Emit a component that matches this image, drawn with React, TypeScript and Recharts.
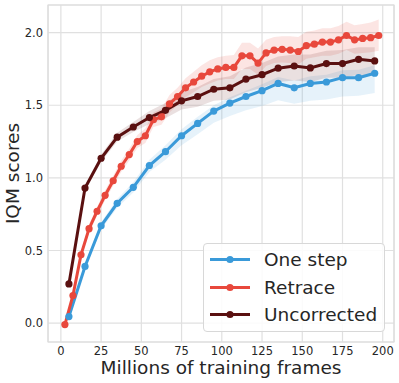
import { Area, CartesianGrid, ComposedChart, Label, Line, ReferenceArea, XAxis, YAxis } from 'recharts'

const retraceFrames = [
  2.5, 7.5, 12.5, 17.5, 22.5, 27.5, 32.5, 37.5, 42.5, 47.5, 52.5, 57.5, 62.5, 67.5, 72.5, 77.5, 82.5, 87.5, 92.5, 97.5,
  102.5, 107.5, 112.5, 117.5, 122.5, 127.5, 132.5, 137.5, 142.5, 147.5, 152.5, 157.5, 162.5, 167.5, 172.5, 177.5, 182.5, 187.5, 192.5, 197.5,
]
const retraceIqm = [
  -0.01, 0.19, 0.47, 0.65, 0.77, 0.88, 0.98, 1.08, 1.16, 1.25, 1.29, 1.4, 1.42, 1.51, 1.56, 1.62, 1.66, 1.7, 1.73, 1.75,
  1.76, 1.76, 1.84, 1.84, 1.79, 1.86, 1.88, 1.885, 1.88, 1.87, 1.91, 1.92, 1.935, 1.935, 1.95, 1.98, 1.95, 1.96, 1.965, 1.98,
]
const retraceLow = [
  -0.025, 0.17, 0.445, 0.62, 0.74, 0.845, 0.945, 1.04, 1.12, 1.205, 1.24, 1.35, 1.365, 1.45, 1.5, 1.555, 1.59, 1.625, 1.65, 1.67,
  1.68, 1.68, 1.75, 1.75, 1.71, 1.77, 1.79, 1.795, 1.79, 1.78, 1.82, 1.83, 1.84, 1.84, 1.855, 1.88, 1.855, 1.86, 1.865, 1.875,
]
const retraceHigh = [
  0.005, 0.21, 0.495, 0.68, 0.8, 0.915, 1.015, 1.12, 1.2, 1.295, 1.34, 1.45, 1.475, 1.57, 1.62, 1.685, 1.73, 1.775, 1.81, 1.83,
  1.84, 1.845, 1.93, 1.93, 1.89, 1.95, 1.97, 1.975, 1.975, 1.97, 2.005, 2.015, 2.03, 2.03, 2.045, 2.075, 2.05, 2.06, 2.07, 2.09,
]

const stepFrames = [5, 15, 25, 35, 45, 55, 65, 75, 85, 95, 105, 115, 125, 135, 145, 155, 165, 175, 185, 195]
const oneStepIqm = [0.045, 0.39, 0.67, 0.825, 0.935, 1.085, 1.18, 1.29, 1.375, 1.46, 1.515, 1.56, 1.6, 1.65, 1.62, 1.65, 1.66, 1.69, 1.69, 1.72]
const oneStepLow = [0.03, 0.37, 0.645, 0.795, 0.9, 1.04, 1.125, 1.225, 1.3, 1.38, 1.425, 1.465, 1.495, 1.535, 1.51, 1.53, 1.54, 1.56, 1.565, 1.585]
const oneStepHigh = [0.06, 0.41, 0.695, 0.855, 0.97, 1.125, 1.225, 1.335, 1.42, 1.5, 1.555, 1.6, 1.645, 1.695, 1.67, 1.7, 1.71, 1.74, 1.745, 1.775]

const uncorrectedIqm = [0.27, 0.93, 1.135, 1.28, 1.35, 1.415, 1.465, 1.53, 1.56, 1.61, 1.62, 1.68, 1.71, 1.755, 1.77, 1.757, 1.787, 1.787, 1.816, 1.805]
const uncorrectedLow = [0.26, 0.91, 1.11, 1.25, 1.315, 1.37, 1.41, 1.47, 1.49, 1.53, 1.54, 1.59, 1.62, 1.66, 1.67, 1.66, 1.69, 1.69, 1.71, 1.7]
const uncorrectedHigh = [0.28, 0.95, 1.16, 1.31, 1.385, 1.46, 1.515, 1.59, 1.625, 1.68, 1.7, 1.76, 1.79, 1.835, 1.85, 1.85, 1.875, 1.88, 1.9, 1.9]

const xTicks = [0, 25, 50, 75, 100, 125, 150, 175, 200]
const yTicks = [0, 0.5, 1, 1.5, 2]

const BLUE = '#3a9ad9'
const RED = '#e8483c'
const DARK = '#5a1010'
const FONT = '"DejaVu Sans", sans-serif'

type Row = { frame: number; [k: string]: number | number[] | undefined }

const buildRows = (): Row[] => {
  const rows = new Map<number, Row>()
  const get = (f: number) => {
    if (!rows.has(f)) rows.set(f, { frame: f })
    return rows.get(f)!
  }
  retraceFrames.forEach((f, i) => {
    const r = get(f)
    r.retrace = retraceIqm[i]
    r.retraceBand = [retraceLow[i], retraceHigh[i]]
  })
  stepFrames.forEach((f, i) => {
    const r = get(f)
    r.oneStep = oneStepIqm[i]
    r.oneStepBand = [oneStepLow[i], oneStepHigh[i]]
    r.uncorrected = uncorrectedIqm[i]
    r.uncorrectedBand = [uncorrectedLow[i], uncorrectedHigh[i]]
  })
  return [...rows.values()].sort((a, b) => a.frame - b.frame)
}

const data = buildRows()

const legendItems = [
  { name: 'One step', color: BLUE },
  { name: 'Retrace', color: RED },
  { name: 'Uncorrected', color: DARK },
]

const tickStyle = { fill: '#262626', fontSize: 11.5, fontFamily: FONT }

export default function App() {
  return (
    <div style={{ position: 'absolute', left: 0, top: 0, width: 399, height: 383, background: '#fff' }}>
      <ComposedChart width={399} height={383} data={data} margin={{ top: 5, right: 5, left: 0, bottom: 0 }}>
        <CartesianGrid stroke="#e0e0e0" strokeWidth={1.2} />
        <ReferenceArea x1={-8} x2={207} y1={-0.13} y2={2.19} fill="none" stroke="#dcdcdc" strokeWidth={1.2} ifOverflow="visible" />
        <XAxis
          dataKey="frame"
          type="number"
          domain={[-8, 207]}
          ticks={xTicks}
          allowDataOverflow
          axisLine={false}
          tickLine={false}
          tickSize={3}
          tickMargin={2}
          height={41}
          tick={tickStyle}
        >
          <Label value="Millions of training frames" position="insideBottom" offset={9} style={{ fill: '#262626', fontSize: 18.5, fontFamily: FONT }} />
        </XAxis>
        <YAxis
          type="number"
          domain={[-0.13, 2.19]}
          ticks={yTicks}
          allowDataOverflow
          axisLine={false}
          tickLine={false}
          tickSize={3}
          tickMargin={2}
          width={48}
          tick={tickStyle}
          tickFormatter={(v) => Number(v).toFixed(1)}
        >
          <Label value="IQM scores" angle={-90} position="insideLeft" offset={12} style={{ textAnchor: 'middle', fill: '#262626', fontSize: 18.5, fontFamily: FONT }} />
        </YAxis>
        <Area dataKey="oneStepBand" type="linear" stroke="none" fill={BLUE} fillOpacity={0.13} connectNulls isAnimationActive={false} activeDot={false} />
        <Area dataKey="retraceBand" type="linear" stroke="none" fill={RED} fillOpacity={0.14} connectNulls isAnimationActive={false} activeDot={false} />
        <Area dataKey="uncorrectedBand" type="linear" stroke="none" fill={DARK} fillOpacity={0.13} connectNulls isAnimationActive={false} activeDot={false} />
        <Line dataKey="oneStep" type="linear" stroke={BLUE} strokeWidth={3} dot={{ r: 3.6, fill: BLUE, stroke: BLUE, strokeWidth: 0 }} connectNulls isAnimationActive={false} />
        <Line dataKey="retrace" type="linear" stroke={RED} strokeWidth={3} dot={{ r: 3.6, fill: RED, stroke: RED, strokeWidth: 0 }} connectNulls isAnimationActive={false} />
        <Line dataKey="uncorrected" type="linear" stroke={DARK} strokeWidth={3} dot={{ r: 3.6, fill: DARK, stroke: DARK, strokeWidth: 0 }} connectNulls isAnimationActive={false} />
      </ComposedChart>
      <div
        style={{
          position: 'absolute',
          left: 203,
          top: 243,
          width: 182,
          height: 89,
          boxSizing: 'border-box',
          border: '1px solid #d8d8d8',
          borderRadius: 4,
          background: 'rgba(255,255,255,0.85)',
          fontFamily: FONT,
        }}
      >
        {legendItems.map((item, i) => (
          <div key={item.name} style={{ position: 'absolute', left: 0, top: 2 + i * 27.5, height: 27, display: 'flex', alignItems: 'center' }}>
            <svg width={60} height={27} style={{ display: 'block' }}>
              <line x1={6} x2={46} y1={13.5} y2={13.5} stroke={item.color} strokeWidth={3} />
              <circle cx={26} cy={13.5} r={3.6} fill={item.color} />
            </svg>
            <span style={{ fontSize: 18.5, color: '#262626', lineHeight: '27px' }}>{item.name}</span>
          </div>
        ))}
      </div>
    </div>
  )
}
